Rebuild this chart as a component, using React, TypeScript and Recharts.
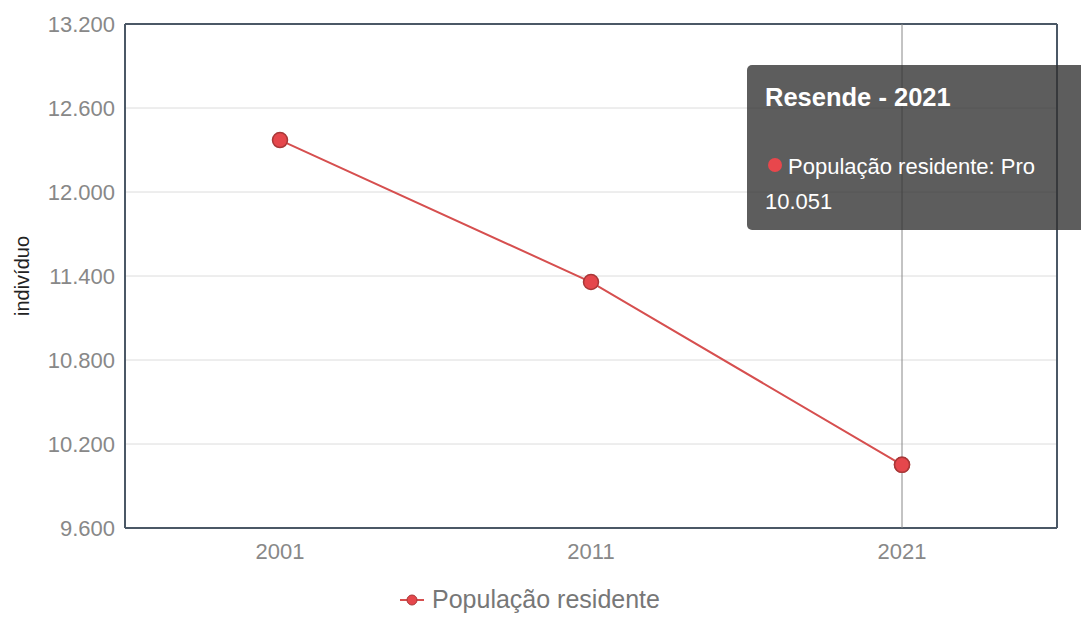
import React from 'react'
import {
  LineChart,
  Line,
  XAxis,
  YAxis,
  CartesianGrid,
  Tooltip,
  Legend,
} from 'recharts'

const years = ['2001', '2011', '2021']
const population = [12371, 11357, 10051]
const yTicks = [9600, 10200, 10800, 11400, 12000, 12600, 13200]

const seriesName = 'População residente'
const placeName = 'Resende'

const chartData = years.map((year, i) => ({ year, value: population[i] }))

const FONT = '"Liberation Sans", Arial, sans-serif'
const LINE_COLOR = '#d64f4f'
const DOT_FILL = '#e5474c'
const DOT_STROKE = '#a83838'
const BORDER = '#4b5866'

// 12371 -> "12.371"
const fmt = (v: number) => String(Math.round(v)).replace(/\B(?=(\d{3})+(?!\d))/g, '.')

function TooltipBox({ payload, label }: any) {
  const value = payload && payload.length ? payload[0].value : population[2]
  const year = label ?? years[2]
  return (
    <div
      style={{
        width: 360,
        height: 165,
        boxSizing: 'border-box',
        background: 'rgba(50, 50, 50, 0.79)',
        borderRadius: 5,
        padding: '18px 18px',
        color: '#fff',
        fontFamily: FONT,
      }}
    >
      <div style={{ fontWeight: 'bold', fontSize: 25.5, lineHeight: '28px' }}>
        {placeName} - {year}
      </div>
      <div style={{ fontSize: 22, lineHeight: '35px', marginTop: 38 }}>
        <span
          style={{
            display: 'inline-block',
            width: 14,
            height: 14,
            borderRadius: 7,
            background: '#e8474c',
            marginLeft: 3,
            marginRight: 6,
            verticalAlign: 'middle',
            position: 'relative',
            top: -3,
          }}
        />
        {seriesName}: Pro
        <br />
        {fmt(value)}
      </div>
    </div>
  )
}

function LegendBox() {
  return (
    <div
      style={{
        display: 'flex',
        justifyContent: 'center',
        alignItems: 'center',
        paddingTop: 7,
        marginLeft: 2,
        fontFamily: FONT,
        fontSize: 25,
        color: '#777',
      }}
    >
      <svg width={24} height={16} style={{ marginRight: 8 }}>
        <line x1={0} y1={8} x2={24} y2={8} stroke={LINE_COLOR} strokeWidth={2} />
        <circle cx={12} cy={8} r={5} fill={DOT_FILL} stroke={DOT_STROKE} strokeWidth={1} />
      </svg>
      <span>{seriesName}</span>
    </div>
  )
}

function YLabel({ viewBox }: any) {
  const cy = viewBox ? viewBox.y + viewBox.height / 2 : 276
  return (
    <text
      x={29}
      y={cy}
      transform={`rotate(-90, 29, ${cy})`}
      textAnchor="middle"
      fontFamily={FONT}
      fontSize={20}
      fill="#222"
    >
      indivíduo
    </text>
  )
}

export default function App() {
  return (
    <div
      style={{
        position: 'absolute',
        left: 0,
        top: 0,
        width: 1081,
        height: 617,
        overflow: 'hidden',
        background: '#fff',
      }}
    >
      <LineChart
        width={1081}
        height={617}
        data={chartData}
        margin={{ top: 23, right: 23, left: 0, bottom: 0 }}
      >
        <CartesianGrid vertical={false} stroke="#dcdcdc" strokeWidth={1} />
        <XAxis
          dataKey="year"
          height={50}
          padding={{ left: 155, right: 155 }}
          tickLine={false}
          tickMargin={9}
          axisLine={{ stroke: BORDER, strokeWidth: 2 }}
          tick={{ fontFamily: FONT, fontSize: 22, fill: '#888' }}
        />
        <XAxis
          xAxisId="top"
          dataKey="year"
          orientation="top"
          height={1}
          tick={false}
          tickLine={false}
          axisLine={{ stroke: BORDER, strokeWidth: 2 }}
        />
        <YAxis
          width={125}
          domain={[9600, 13200]}
          ticks={yTicks}
          tickFormatter={fmt}
          tickLine={false}
          tickMargin={4}
          interval={0}
          axisLine={{ stroke: BORDER, strokeWidth: 2 }}
          tick={{ fontFamily: FONT, fontSize: 22, fill: '#888' }}
          label={<YLabel />}
        />
        <YAxis
          yAxisId="right"
          orientation="right"
          width={1}
          domain={[9600, 13200]}
          tick={false}
          tickLine={false}
          axisLine={{ stroke: BORDER, strokeWidth: 2 }}
        />
        <Tooltip
          active
          defaultIndex={2}
          position={{ x: 747, y: 65 }}
          allowEscapeViewBox={{ x: true, y: true }}
          cursor={{ stroke: '#888', strokeWidth: 1 }}
          content={<TooltipBox />}
          isAnimationActive={false}
          wrapperStyle={{ outline: 'none' }}
        />
        <Legend verticalAlign="bottom" height={39} content={<LegendBox />} />
        <Line
          type="linear"
          dataKey="value"
          name={seriesName}
          stroke={LINE_COLOR}
          strokeWidth={2}
          dot={{ r: 7.5, fill: DOT_FILL, stroke: DOT_STROKE, strokeWidth: 1.5 }}
          activeDot={{ r: 7.5, fill: DOT_FILL, stroke: DOT_STROKE, strokeWidth: 1.5 }}
          isAnimationActive={false}
        />
      </LineChart>
    </div>
  )
}
